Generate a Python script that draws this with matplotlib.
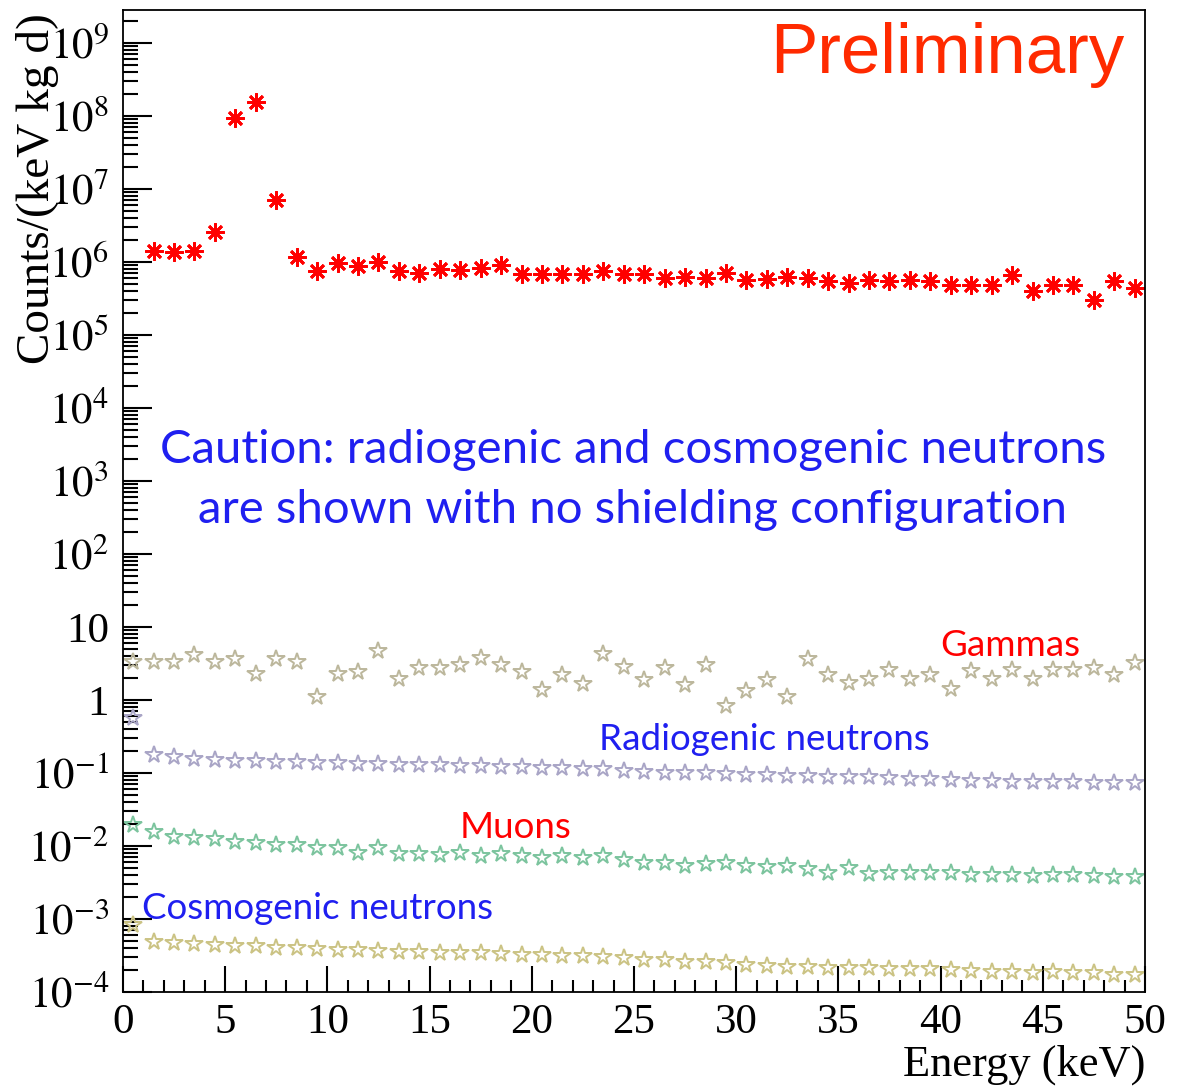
import matplotlib
matplotlib.use('Agg')
import matplotlib.pyplot as plt
from matplotlib.ticker import LogLocator, FixedLocator, MultipleLocator, NullFormatter
import numpy as np

plt.rcParams['font.family'] = ['Liberation Serif', 'DejaVu Serif']
plt.rcParams['mathtext.fontset'] = 'stix'

# bin centres (keV)
energy = np.arange(0.5, 50, 1.0)

# gamma background, starts at the second bin
gammas_bkg = [1.43e6, 1.35e6, 1.43e6, 2.6e6, 9.3e7, 1.54e8, 7.1e6, 1.17e6, 7.6e5,
              9.6e5, 8.7e5, 1.0e6, 7.6e5, 7.1e5, 7.9e5, 7.8e5, 8.2e5, 9.1e5, 6.8e5,
              6.9e5, 6.9e5, 6.9e5, 7.6e5, 6.8e5, 6.9e5, 6.0e5, 6.3e5, 6.1e5, 7.1e5,
              5.6e5, 5.9e5, 6.3e5, 6.0e5, 5.5e5, 5.1e5, 5.6e5, 5.5e5, 5.6e5, 5.4e5,
              4.8e5, 4.8e5, 4.8e5, 6.6e5, 4.0e5, 4.9e5, 4.9e5, 3.0e5, 5.5e5, 4.4e5]

gammas = [3.3, 3.3, 3.3, 4.1, 3.3, 3.6, 2.25, 3.6, 3.3, 1.09,
          2.25, 2.44, 4.7, 1.92, 2.7, 2.7, 3.0, 3.8, 3.0, 2.44,
          1.37, 2.2, 1.64, 4.2, 2.8, 1.88, 2.7, 1.6, 3.0, 0.83,
          1.34, 1.88, 1.09, 3.6, 2.2, 1.73, 1.92, 2.6, 1.92, 2.2,
          1.4, 2.5, 1.92, 2.6, 1.92, 2.6, 2.6, 2.7, 2.2, 3.2]

radiogenic = [0.56, 0.177, 0.164, 0.156, 0.151, 0.148, 0.146, 0.143, 0.141, 0.139,
              0.136, 0.133, 0.133, 0.129, 0.129, 0.129, 0.126, 0.125, 0.122, 0.12,
              0.116, 0.116, 0.112, 0.112, 0.107, 0.104, 0.101, 0.101, 0.099, 0.097,
              0.094, 0.094, 0.091, 0.091, 0.089, 0.089, 0.087, 0.085, 0.082, 0.082,
              0.080, 0.0785, 0.077, 0.076, 0.076, 0.075, 0.074, 0.073, 0.072, 0.072]

muons = [0.0194, 0.0157, 0.0134, 0.0127, 0.0123, 0.0115, 0.0111, 0.0103, 0.0103, 0.0093,
         0.0093, 0.0081, 0.0093, 0.0078, 0.0078, 0.0075, 0.0079, 0.0073, 0.0078, 0.0073,
         0.0068, 0.0073, 0.0068, 0.0073, 0.0064, 0.0059, 0.0059, 0.0053, 0.0057, 0.0058,
         0.0053, 0.0051, 0.0053, 0.0048, 0.0043, 0.0050, 0.0041, 0.0043, 0.0042, 0.0043,
         0.0042, 0.0040, 0.0040, 0.0040, 0.0039, 0.0040, 0.0040, 0.0039, 0.0037, 0.0037]

cosmogenic = [8.3e-4, 4.9e-4, 4.7e-4, 4.6e-4, 4.4e-4, 4.2e-4, 4.2e-4, 4.0e-4, 4.0e-4, 3.85e-4,
              3.76e-4, 3.7e-4, 3.68e-4, 3.56e-4, 3.56e-4, 3.46e-4, 3.39e-4, 3.39e-4, 3.3e-4, 3.2e-4,
              3.2e-4, 3.1e-4, 3.1e-4, 3.05e-4, 2.95e-4, 2.75e-4, 2.7e-4, 2.6e-4, 2.6e-4, 2.46e-4,
              2.34e-4, 2.3e-4, 2.18e-4, 2.2e-4, 2.12e-4, 2.12e-4, 2.12e-4, 2.05e-4, 2.05e-4, 2.05e-4,
              2.0e-4, 1.95e-4, 1.9e-4, 1.9e-4, 1.84e-4, 1.9e-4, 1.8e-4, 1.8e-4, 1.71e-4, 1.71e-4]

ytick_vals = [10.0 ** k for k in range(-4, 10)]
ytick_labels = [r'$10^{%d}$' % k if k not in (0, 1) else ('1' if k == 0 else '10')
                for k in range(-4, 10)]

fig = plt.figure(figsize=(11.82, 10.89), dpi=100)
ax = fig.add_axes([0.104, 0.0891, 0.8647, 0.9017])

star_kw = dict(linestyle='none', marker='*', markersize=13, markerfacecolor='none',
               markeredgewidth=1.4)
ax.plot(energy, gammas, markeredgecolor='#bcb79c', **star_kw)
ax.plot(energy, radiogenic, markeredgecolor='#a9a5c6', **star_kw)
ax.plot(energy, muons, markeredgecolor='#7cc49e', **star_kw)
ax.plot(energy, cosmogenic, markeredgecolor='#cbc384', **star_kw)
ax.plot(energy[1:], gammas_bkg, linestyle='none', marker=(8, 2, 0), markersize=13,
        color='#ff0000', markeredgewidth=2.0)

ax.set_yscale('log')
ax.set_xlim(0, 50)
ax.set_ylim(1e-4, 10 ** 9.45)

ax.yaxis.set_major_locator(FixedLocator(ytick_vals))
ax.set_yticklabels(ytick_labels)
ax.yaxis.set_minor_locator(LogLocator(base=10, subs=np.arange(2, 10), numticks=100))
ax.yaxis.set_minor_formatter(NullFormatter())
ax.xaxis.set_major_locator(MultipleLocator(5))
ax.xaxis.set_minor_locator(MultipleLocator(1))

ax.tick_params(axis='both', which='both', direction='in', top=False, right=False,
               width=1.5, labelsize=31)
ax.tick_params(axis='y', which='major', length=21, pad=10)
ax.tick_params(axis='y', which='minor', length=10.5)
ax.tick_params(axis='x', which='major', length=19, pad=8)
ax.tick_params(axis='x', which='minor', length=9)
for sp in ax.spines.values():
    sp.set_linewidth(1.3)

ax.set_xlabel('Energy (keV)', fontsize=32, loc='right', labelpad=2)
ax.set_ylabel('Counts/(keV kg d)', fontsize=34, loc='top')
ax.yaxis.set_label_coords(-0.063, 0.997)

sans = ['Lato', 'DejaVu Sans']
ax.text(49.0, 6.9e8, 'Preliminary', color='#ff2a00', fontsize=51,
        family=['Liberation Sans', 'DejaVu Sans'], ha='right', va='center')
ax.text(24.95, 2660, 'Caution: radiogenic and cosmogenic neutrons', color='#1f1ff0',
        fontsize=34, family=sans, ha='center', va='center')
ax.text(24.95, 400, 'are shown with no shielding configuration', color='#1f1ff0',
        fontsize=34, family=sans, ha='center', va='center')
ax.text(43.4, 5.5, 'Gammas', color='#ff0000', fontsize=26.5, family=sans,
        ha='center', va='center')
ax.text(31.4, 0.283, 'Radiogenic neutrons', color='#1f1ff0', fontsize=26.5, family=sans,
        ha='center', va='center')
ax.text(19.2, 0.018, 'Muons', color='#ff0000', fontsize=26.5, family=sans,
        ha='center', va='center')
ax.text(0.93, 1.41e-3, 'Cosmogenic neutrons', color='#1f1ff0', fontsize=26.5, family=sans,
        ha='left', va='center')

fig.savefig('out.png', dpi=100)
plt.close(fig)
